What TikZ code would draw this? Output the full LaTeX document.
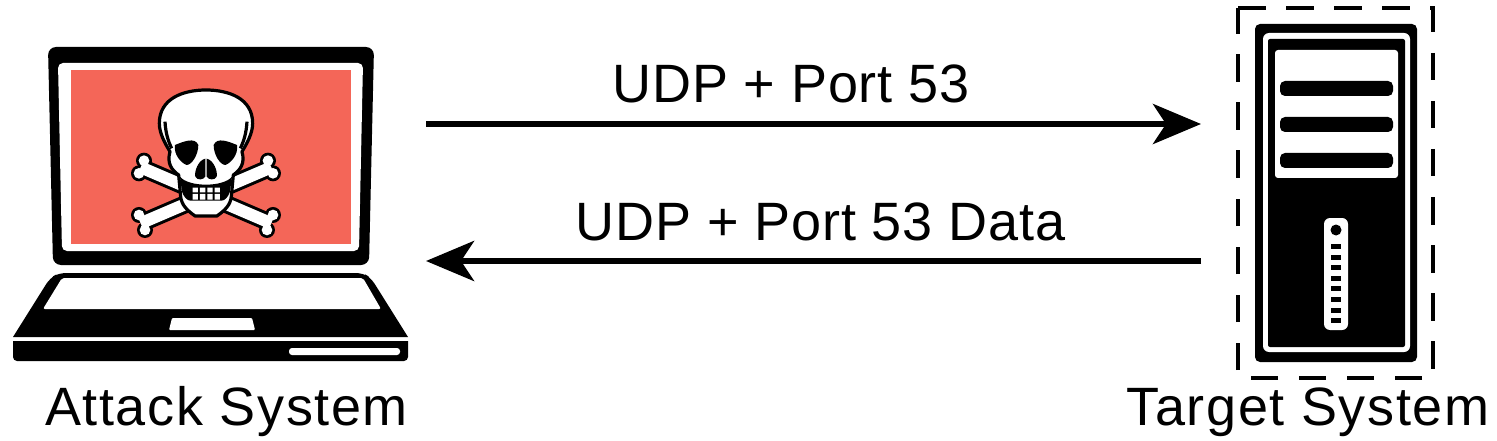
\documentclass[tikz,border=0pt]{standalone}
\usepackage{fontspec}
\setmainfont{Liberation Sans}
\newfontfamily\linkfont[LetterSpace=1.5]{Liberation Sans}
\newfontfamily\hostfont[LetterSpace=3]{Liberation Sans}
\usepackage{tikz}
\usetikzlibrary{arrows.meta}
\definecolor{screenred}{HTML}{F46658}

\begin{document}
\begin{tikzpicture}[x=1pt,y=-1pt]
		\tikzstyle{linklabel}=[inner sep = 0pt, anchor = base, font = \linkfont\fontsize{54}{54}\selectfont];
		\tikzstyle{hostlabel}=[inner sep = 0pt, anchor = base, font = \hostfont\fontsize{54}{54}\selectfont];
		\tikzstyle{link}=[line width = 6pt, -{Stealth[length = 48pt, width = 40pt, inset = 13pt]}];
		\tikzstyle{blackpart}=[fill = black];
		\tikzstyle{whitepart}=[fill = white];
		\tikzstyle{skullline}=[draw = black, fill = white, line width = 3.2pt, line join = round];

		\useasboundingbox (0,0) rectangle (1497,441);

		\fill[blackpart, rounded corners = 8pt] (48,47) -- (374,47) -- (369,265) -- (53,265) -- cycle;
		\fill[whitepart, rounded corners = 5pt] (58,63) -- (363,63) -- (359,251) -- (62,251) -- cycle;
		\fill[screenred] (71,70) rectangle (351,244);
		\fill[blackpart, rounded corners = 7pt] (59,273) -- (363,273) -- (371,278) [sharp corners] -- (408,337) -- (13,337) [rounded corners = 7pt] -- (50,278) -- cycle;
		\fill[whitepart, rounded corners = 2pt] (62,278) -- (363,278) -- (381,309) -- (43,309) -- cycle;
		\fill[whitepart, rounded corners = 1pt] (172,318) -- (252,318) -- (255,330) -- (169,330) -- cycle;
		\fill[blackpart] (13,341) -- (408,341) [rounded corners = 4pt] -- (408,361) -- (13,361) [sharp corners] -- cycle;
		\fill[whitepart, rounded corners = 3pt] (289,348) rectangle (400,355);

		\begin{scope}[shift = {(120,80)}, x = 0.3333pt, y = -0.3333pt]
			\foreach \shade/\shaft/\knob in {black/18pt/24, white/12pt/16} {
				\draw[\shade, line width = \shaft] (62,262) -- (454,430);
				\draw[\shade, line width = \shaft] (454,262) -- (62,430);
				\foreach \kx/\ky in {72/242, 57/280, 444/242, 459/280, 57/405, 75/450, 459/405, 441/450}
					\fill[\shade] (\kx,\ky) circle[radius = \knob];
			}
			\path[skullline] (258,30) .. controls (190,30) and (118,55) .. (118,130)
				.. controls (118,160) and (135,190) .. (150,215)
				.. controls (140,250) and (155,270) .. (176,285)
				-- (182,350) .. controls (185,375) and (200,390) .. (225,408)
				-- (291,408) .. controls (316,390) and (331,375) .. (334,350)
				-- (340,285) .. controls (361,270) and (376,250) .. (366,215)
				.. controls (381,190) and (398,160) .. (398,130)
				.. controls (398,55) and (326,30) .. (258,30) -- cycle;
			\draw[line width = 3.2pt] (135,125) .. controls (137,160) and (145,185) .. (155,205);
			\draw[line width = 3.2pt] (381,125) .. controls (379,160) and (371,185) .. (361,205);
			\fill[blackpart] (165,195) .. controls (190,185) and (225,170) .. (235,195)
				.. controls (235,225) and (215,255) .. (200,255)
				.. controls (185,250) and (160,225) .. (165,195) -- cycle;
			\fill[blackpart] (351,195) .. controls (326,185) and (291,170) .. (281,195)
				.. controls (281,225) and (301,255) .. (316,255)
				.. controls (331,250) and (356,225) .. (351,195) -- cycle;
			\fill[blackpart] (256,236) .. controls (235,240) and (222,275) .. (226,290)
				.. controls (232,302) and (250,300) .. (256,290) -- cycle;
			\fill[blackpart] (260,236) .. controls (281,240) and (294,275) .. (290,290)
				.. controls (284,302) and (266,300) .. (260,290) -- cycle;
			\fill[blackpart] (180,290) .. controls (205,322) and (311,322) .. (336,290)
				-- (330,335) .. controls (325,350) and (315,362) .. (305,362)
				-- (211,362) .. controls (201,362) and (191,350) .. (186,335) -- cycle;
			\foreach \tx in {218,240,262,284}
				\fill[whitepart] (\tx,323) rectangle ++(16,14) (\tx,342) rectangle ++(16,17);
		\end{scope}

		\fill[blackpart, rounded corners = 5pt] (1255,24) rectangle (1417,362);
		\fill[whitepart, rounded corners = 6pt] (1263,33) rectangle (1410,352);
		\fill[blackpart, rounded corners = 2pt] (1268,39) rectangle (1405,347);
		\fill[whitepart, rounded corners = 3pt] (1275,50) rectangle (1398,178);
		\foreach \bary in {81,117,153}
			\fill[blackpart, rounded corners = 5pt] (1280,\bary) rectangle (1393,\bary+15);
		\fill[whitepart, rounded corners = 6pt] (1324,218) rectangle (1348,330);
		\fill[blackpart] (1336,230) circle[radius = 5.5];
		\foreach \i in {0,...,7}
			\fill[blackpart] (1331,244+\i*10.6) rectangle (1341,249+\i*10.6);

		\draw[line width = 3.7pt, dash pattern = on 27.5pt off 20.5pt] (1238,8) -- (1433,8) -- (1433,378) -- (1238,378) -- cycle;

		\coordinate (laptopout) at (426,124);
		\coordinate (serverin) at (1201,124);
		\coordinate (serverout) at (1201,261);
		\coordinate (laptopin) at (426,261);
		\draw[link] (laptopout) -- (serverin);
		\draw[link] (serverout) -- (laptopin);

		\node[linklabel] (request) at (791,103) {UDP + Port 53};
		\node[linklabel] (reply) at (820.5,240) {UDP + Port 53 Data};
		\node[hostlabel] (attack) at (226.5,425) {Attack System};
		\node[hostlabel] (target) at (1308,425) {Target System};
\end{tikzpicture}
\end{document}
